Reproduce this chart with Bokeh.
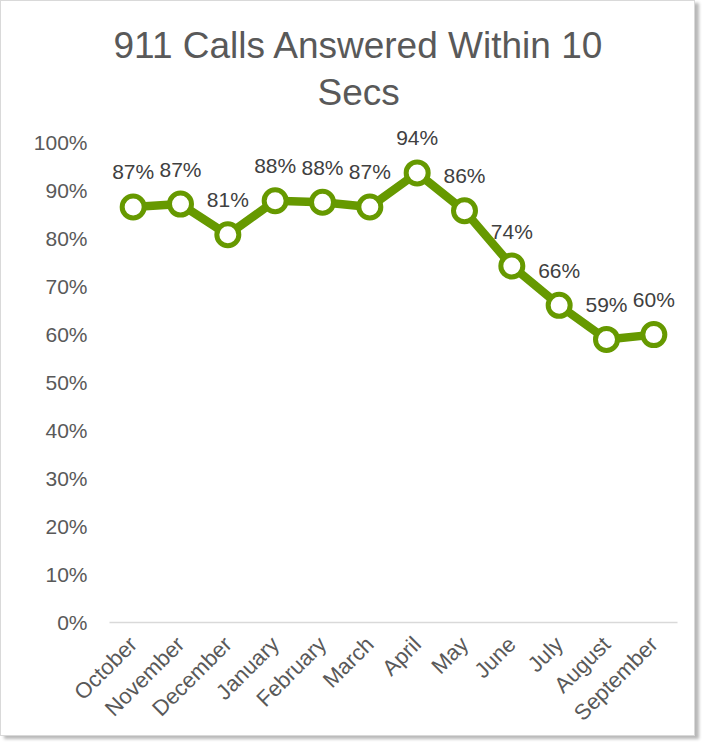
from math import pi
from bokeh.plotting import figure
from bokeh.models import ColumnDataSource, FactorRange, Range1d, FixedTicker, NumeralTickFormatter, Title
from bokeh.embed import file_html
from bokeh.resources import INLINE
from bokeh.core.properties import value

# ---- data ----
months = ["October", "November", "December", "January", "February", "March",
          "April", "May", "June", "July", "August", "September"]
rates = [0.866, 0.872, 0.808, 0.879, 0.876, 0.866, 0.937, 0.858, 0.743, 0.661, 0.590, 0.600]
y_ticks = [0.0, 0.1, 0.2, 0.3, 0.4, 0.5, 0.6, 0.7, 0.8, 0.9, 1.0]
title_lines = ["911 Calls Answered Within 10", "Secs"]

labels = [f"{round(r * 100)}%" for r in rates]
src = ColumnDataSource(dict(month=months, rate=rates, label=labels))

GREEN = "#669900"
FONT = "Liberation Sans"

p = figure(width=695, height=736, x_range=FactorRange(*months), y_range=Range1d(0, 1.04),
           output_backend="svg", toolbar_location=None, title=None,
           min_border_left=108, min_border_right=19, min_border_bottom=110, min_border_top=122)

p.styles = {"border": "1px solid #d9d9d9", "box-shadow": "4px 3px 3px rgba(0,0,0,0.28)"}

# titles (inner first, outer last)
t2 = Title(text=title_lines[1], align="left", text_font=FONT, text_font_size="37px",
           text_color="#595959", text_font_style="normal", standoff=22, offset=208)
t1 = Title(text=title_lines[0], align="left", text_font=FONT, text_font_size="37px",
           text_color="#595959", text_font_style="normal", standoff=-15, offset=4)
p.add_layout(t2, "above")
p.add_layout(t1, "above")

p.outline_line_color = None
p.background_fill_color = "white"
p.border_fill_color = "white"
p.xgrid.grid_line_color = None
p.ygrid.grid_line_color = None

# line + markers
p.line("month", "rate", source=src, line_color=GREEN, line_width=8.5, line_join="round")
p.scatter("month", "rate", source=src, size=22, fill_color="white", line_color=GREEN, line_width=5)
p.text("month", "rate", text="label", source=src, text_font=value(FONT), text_font_size="21px",
       text_color="#404040", text_align="center", text_baseline="middle", y_offset=-35)

# y axis
p.yaxis.ticker = FixedTicker(ticks=y_ticks)
p.yaxis.formatter = NumeralTickFormatter(format="0%")
p.yaxis.axis_line_color = None
p.yaxis.major_tick_line_color = None
p.yaxis.minor_tick_line_color = None
p.yaxis.major_label_standoff = 16
p.yaxis.major_label_text_font = FONT
p.yaxis.major_label_text_font_size = "21px"
p.yaxis.major_label_text_color = "#595959"

# x axis
p.xaxis.axis_line_color = "#d9d9d9"
p.xaxis.axis_line_width = 1.5
p.xaxis.major_tick_line_color = None
p.xaxis.minor_tick_line_color = None
p.xaxis.major_label_orientation = pi / 4
p.xaxis.major_label_standoff = 12
p.xaxis.major_label_text_font = FONT
p.xaxis.major_label_text_font_size = "22px"
p.xaxis.major_label_text_color = "#595959"

open("out.html", "w").write(file_html(p, INLINE))
